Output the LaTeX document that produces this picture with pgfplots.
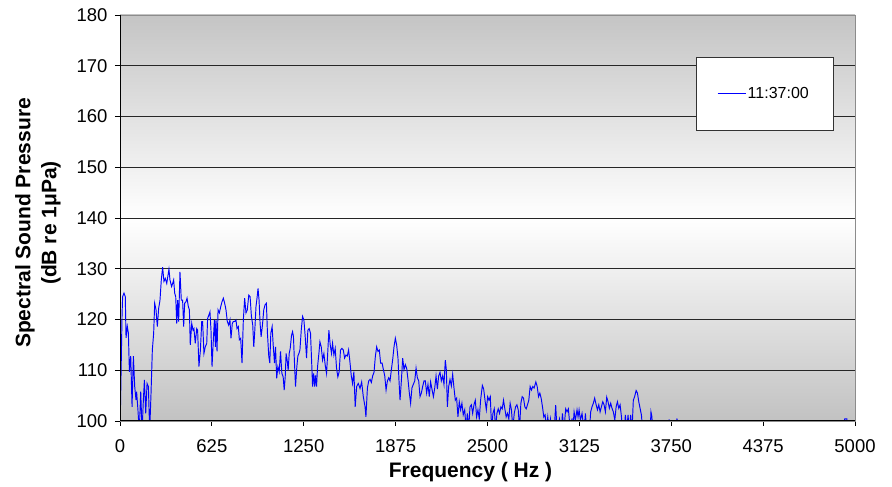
\documentclass[border=0pt]{standalone}
\usepackage{fontspec}
\setmainfont{Liberation Sans}
\usepackage{pgfplots}
\pgfplotsset{compat=1.18}
\definecolor{lineblue}{RGB}{0,0,255}
\begin{document}
\begin{tikzpicture}
\begin{axis}[
  name=ax,
  scale only axis,
  width=735pt, height=406pt,
  xmin=0, xmax=5000, ymin=100, ymax=180,
  xtick={0,625,...,5000},
  ytick={100,110,...,180},
  tick pos=left,
  tick align=outside,
  major tick length=5pt,
  tick style={black, line width=0.8pt},
  /pgf/number format/assume math mode=true,
  /pgf/number format/1000 sep={},
  ticklabel style={font=\fontsize{18.5}{22}\selectfont},
  xticklabel style={yshift=-10.5pt},
  yticklabel style={xshift=-4pt},
  ymajorgrids,
  grid style={black!85, line width=0.8pt},
  axis line style={draw=gray!90, line width=0.8pt},
  axis background/.style={top color=gray!46, bottom color=gray!48, middle color=white},
  clip mode=individual,
  legend style={at={(1,1)}, anchor=north east, xshift=-22pt, yshift=-42pt,
    draw=black!80, fill=white, inner xsep=22pt, inner ysep=28pt,
    font=\fontsize{16}{19}\selectfont},
  legend image code/.code={%
    \node[inner sep=0pt, outer sep=0pt, anchor=west] at (0pt,0pt)
      {\textcolor{lineblue}{\rule[-0.5pt]{28pt}{1pt}}};},
]
\addplot[color=lineblue, draw=lineblue, line width=0.95pt] coordinates {
(0,97) (14,121) (18,124.5) (27,125.2) (36,124.5) (41,116.4) (50,118.6) (57,117.3) (64,109.7) (73,112.8)
(82,102.8) (91,112.8) (100,106.8) (109,104.1) (113,105.8) (122,102.2) (131,98) (141,105.8) (150,98) (159,104.1)
(166,108.1) (175,101.5) (184,107.4) (193,106.8) (202,98) (211,105.4) (220,114) (229,117.3) (236,123.2) (245,121.9)
(254,118.6) (263,122.2) (272,123.8) (281,127.8) (290,130.3) (299,127.5) (308,128.1) (318,127.1) (327,128.8) (333,129.9)
(340,127.8) (351,126.5) (358,127.1) (365,127.8) (372,125.2) (379,124.5) (386,119.2) (392,123.8) (399,119.6) (408,129.4)
(417,123.8) (426,123.8) (433,118.6) (440,123.2) (449,123.5) (456,124.2) (465,122.5) (472,121.9) (478,115) (488,119.2)
(497,117.9) (503,118.2) (512,115.3) (522,118.2) (528,117.9) (537,110.7) (547,114) (556,119.6) (562,119.6) (571,113.3)
(580,114.6) (590,115.3) (596,120.2) (605,120.9) (612,121.5) (619,117.9) (626,110.7) (635,116) (642,119.9) (649,114.6)
(653,119.9) (660,113.7) (667,121.9) (676,121.3) (685,122.5) (694,123.5) (703,124.2) (712,123.2) (721,121.9) (730,119.6)
(739,118.9) (748,119.9) (755,116.3) (764,119.2) (771,119.6) (780,119.6) (789,119.9) (796,118.2) (805,118.6) (812,116)
(821,116.3) (830,111.4) (839,119.9) (848,124.2) (857,121.3) (866,121.9) (876,124.8) (885,124.5) (894,120.6) (903,118.9)
(910,114.6) (916,117.3) (925,122.5) (932,124.2) (939,126.1) (946,123.8) (953,119.2) (960,116.6) (969,118.9) (978,121.9)
(987,122.9) (996,123.2) (1003,117.3) (1012,112.8) (1019,111.4) (1026,117.3) (1035,118.6) (1042,115) (1051,111.4) (1058,114.6)
(1066,108.4) (1074,110.7) (1083,109.7) (1092,113.7) (1101,109.4) (1110,108.7) (1117,106.1) (1124,108.7) (1130,113.3) (1137,112)
(1144,110) (1151,113.3) (1158,114.3) (1167,116.9) (1174,117.6) (1180,116.6) (1187,111.4) (1194,106.8) (1203,110.7) (1210,112.8)
(1217,113.3) (1224,114) (1233,117.9) (1242,120.6) (1251,119.9) (1260,116.6) (1269,112.4) (1278,117.9) (1287,118.2) (1296,117.3)
(1305,110.7) (1310,106.8) (1317,109.4) (1324,106.8) (1330,109) (1337,106.8) (1344,110.7) (1353,113.3) (1360,115.6) (1369,114.6)
(1378,112) (1387,113.3) (1396,111) (1405,109.4) (1412,112.8) (1421,117.9) (1430,115) (1439,113.3) (1446,115.3) (1455,113)
(1464,114.3) (1473,110.4) (1482,108.7) (1491,109.7) (1500,114) (1510,114.3) (1519,114) (1528,112.4) (1537,113) (1546,112.8)
(1555,114) (1564,111.7) (1573,109) (1582,107.4) (1591,109.7) (1600,102.8) (1610,106.8) (1621,107.4) (1633,106.4) (1644,107.7)
(1655,104.8) (1667,102.8) (1673,100.8) (1683,106.5) (1692,107.9) (1701,108.2) (1710,107.6) (1719,108.9) (1728,109.6) (1737,112.7)
(1746,114.6) (1755,113.7) (1764,114) (1773,111.4) (1783,111.4) (1792,110.1) (1801,108.9) (1810,106.1) (1819,107.9) (1828,108.5)
(1837,107.9) (1846,110.1) (1855,112.1) (1864,114.6) (1873,116.3) (1882,115) (1891,112.4) (1898,107.9) (1905,104.1) (1914,107.9)
(1923,112.4) (1932,110.1) (1941,111.1) (1950,110.4) (1959,108.2) (1968,105.6) (1977,103.5) (1986,106.5) (1995,107.2) (2005,107.9)
(2014,110.4) (2023,108.5) (2032,107.9) (2041,104.8) (2050,105.5) (2059,106.8) (2068,107.9) (2077,107.9) (2086,105.5) (2095,107.2)
(2104,104.8) (2113,107.7) (2122,106.3) (2132,104.8) (2141,106.5) (2150,108.9) (2159,106.3) (2168,108.9) (2177,109.6) (2186,107.9)
(2195,108.9) (2204,107.2) (2213,112) (2220,110.1) (2227,102.8) (2236,106.8) (2245,108.2) (2254,106.9) (2263,109.2) (2272,106.5)
(2281,104.1) (2290,104.5) (2299,100.8) (2308,103.8) (2317,102.2) (2326,103.5) (2335,101.2) (2345,102.2) (2354,98.5) (2363,101.5)
(2372,98.5) (2381,102.8) (2390,103.2) (2399,101.5) (2408,103.2) (2417,104.1) (2426,100.8) (2435,102.2) (2444,100.4) (2453,104.1)
(2465,107) (2474,106.3) (2483,104.1) (2492,102.2) (2501,104.8) (2510,104.1) (2519,104.8) (2528,98.5) (2537,101.5) (2546,102.4)
(2555,98.5) (2564,101.5) (2573,102.4) (2582,101.5) (2591,102.8) (2600,102.4) (2609,104.1) (2618,102.4) (2627,100.8) (2636,101.5)
(2645,100.4) (2654,103.5) (2663,102.2) (2672,98.5) (2682,101.5) (2691,102.8) (2700,103.2) (2709,102.2) (2718,98.5) (2727,103.5)
(2736,104.8) (2745,104.5) (2754,102.8) (2763,102.4) (2772,103.2) (2781,104.1) (2790,106.8) (2799,106.1) (2808,106.8) (2817,106.5)
(2829,107.7) (2838,106.8) (2847,104.8) (2856,105.5) (2865,104.5) (2874,102.8) (2883,100.8) (2892,101.2) (2901,98.5) (2910,100.8)
(2919,98.5) (2928,100.4) (2937,98) (2955,99) (2964,103.1) (2973,98) (2990,100.4) (3001,98) (3010,101.5) (3019,98)
(3032,102.4) (3041,101.8) (3050,102.4) (3064,98) (3075,100.5) (3080,98) (3089,101.8) (3098,100.2) (3109,102.2) (3116,100.8)
(3123,102.2) (3132,100.2) (3143,101.5) (3157,98) (3166,101.5) (3175,98) (3193,98) (3202,101.8) (3211,102.8) (3220,103.5)
(3229,104.5) (3239,103.2) (3248,102.2) (3257,103.2) (3266,101.8) (3275,102.8) (3284,103.8) (3293,103.2) (3302,101.8) (3311,104.7)
(3320,103.8) (3329,102.5) (3338,103.5) (3347,102.5) (3356,101.8) (3366,100.2) (3375,102.8) (3384,103.8) (3393,102.5) (3402,103.2)
(3411,100.9) (3420,98) (3429,98) (3438,101.2) (3447,98) (3456,101.2) (3465,98) (3474,101.2) (3483,98) (3492,104.1)
(3501,104.8) (3511,106) (3520,105.5) (3529,103.8) (3538,102.5) (3547,101.2) (3556,98) (3565,97) (3605,97) (3612,101.8)
(3618,100.9) (3627,97) (3730,97) (3736,100.3) (3742,97) (3783,97) (3789,100.5) (3795,97) (4920,97) (4930,100.4)
(4945,100.4) (4955,97) (5000,97)
};
\addlegendentry{11:37:00}
\draw[black, line width=1pt] (rel axis cs:0,1) -- (rel axis cs:0,0) -- (rel axis cs:1,0);
\end{axis}
\node[rotate=90, align=center, font=\fontsize{21}{26}\selectfont\bfseries]
  at ([xshift=-82pt, yshift=-5pt]ax.west) {Spectral Sound Pressure\\(dB re 1μPa)};
\node[font=\fontsize{21}{24}\selectfont\bfseries]
  at ([xshift=-17pt, yshift=-51pt]ax.south) {Frequency ( Hz )};
\path ([xshift=-120pt, yshift=-66pt]ax.south west) rectangle ([xshift=37pt, yshift=15pt]ax.north east);
\end{tikzpicture}
\end{document}
